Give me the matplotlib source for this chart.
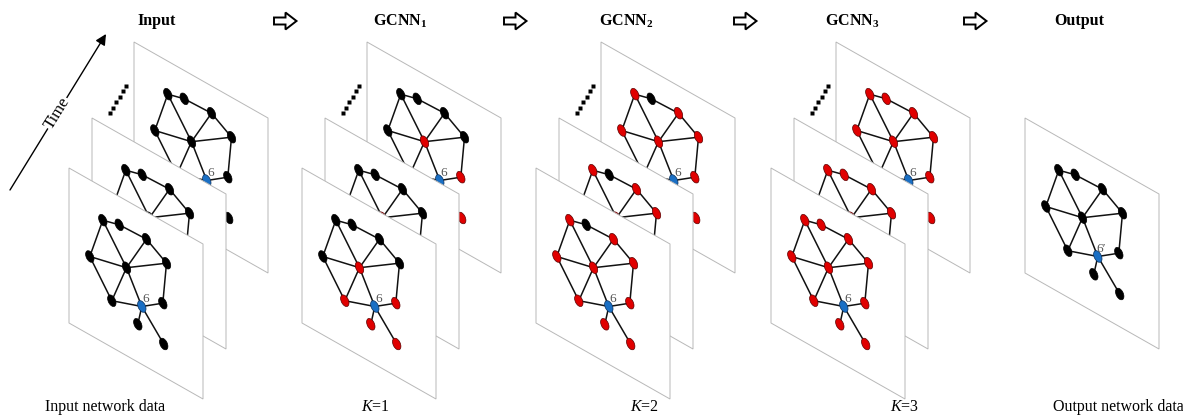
import matplotlib
matplotlib.use('Agg')
import matplotlib.pyplot as plt
from matplotlib.patches import Polygon, Ellipse
from matplotlib.transforms import Affine2D

plt.rcParams['font.family'] = ['Liberation Serif', 'DejaVu Serif']
plt.rcParams['mathtext.fontset'] = 'custom'
plt.rcParams['mathtext.rm'] = 'Liberation Serif'
plt.rcParams['mathtext.it'] = 'Liberation Serif:italic'
plt.rcParams['mathtext.bf'] = 'Liberation Serif:bold'

# ---------------- data ----------------
stage_titles = ['Input', r'$\mathbf{GCNN}_\mathbf{1}$', r'$\mathbf{GCNN}_\mathbf{2}$',
                r'$\mathbf{GCNN}_\mathbf{3}$', 'Output']
stage_captions = ['Input network data', r'$K$=1', r'$K$=2', r'$K$=3', 'Output network data']
title_x = [157, 400, 626, 852, 1079]
caption_x = [105, 375, 645, 905, 1118]
arrow_x = [285, 515, 745, 975]

# front panel top-left x for the 4 stacked stages, output panel top-left
stack_front_x = [69, 302, 536, 771]
output_panel_xy = (1025, 118)

# graph nodes (position within panel, pixels from panel's top-left corner)
node_u = [33.8, 50.2, 77.5, 20.8, 57.5, 97.5, 42.8, 72.8, 93.8, 68.8, 94.7]
node_v = [52.2, 56.8, 71.2, 88.5, 99.7, 95.2, 132.7, 138.5, 135.2, 156.3, 176.0]
edges = [(0, 1), (1, 2), (2, 5), (0, 3), (0, 4), (3, 4), (2, 4), (4, 5),
         (3, 6), (6, 4), (4, 7), (6, 7), (7, 8), (5, 8), (7, 9), (7, 10)]
target_node = 7
stage_colors = ['kkkkkkkbkkk',
                'kkkkrkrbrrr',
                'rkrrrrrbrrr',
                'rrrrrrrbrrr',
                'kkkkkkkbkkk']
target_labels = ['6', '6', '6', '6', "6\u2032"]

# ---------------- geometry ----------------
W, H = 1183, 416
PW, PSKEW, PH = 134, 76, 155
SHEAR = PSKEW / PW
MID_OFF = (23, -50)
BACK_OFF = (65, -126)
FRONT_Y = 168

fill = {'k': ('#000000', '#000000'), 'r': ('#e00000', '#5a0000'), 'b': ('#1a6fc4', '#0b2f5a')}

fig = plt.figure(figsize=(W / 100, H / 100), dpi=100)
ax = fig.add_axes([0, 0, 1, 1])
ax.set_xlim(0, W)
ax.set_ylim(H, 0)
ax.axis('off')


def draw_panel(x0, y0, colors, label, z):
    pts = [(x0, y0), (x0 + PW, y0 + PSKEW), (x0 + PW, y0 + PSKEW + PH), (x0, y0 + PH)]
    ax.add_patch(Polygon(pts, closed=True, facecolor='white', edgecolor='#b8b8b8',
                         lw=0.7, zorder=z))
    xs = [x0 + u for u in node_u]
    ys = [y0 + v for v in node_v]
    for a, b in edges:
        ax.plot([xs[a], xs[b]], [ys[a], ys[b]], color='#111111', lw=1.1,
                zorder=z + 0.1, solid_capstyle='round')
    for i, c in enumerate(colors):
        fc, ec = fill[c]
        tr = Affine2D().from_values(1, SHEAR, 0, 1, xs[i], ys[i]) + ax.transData
        e = Ellipse((0, 0), 8.4, 10.6, facecolor=fc, edgecolor=ec, lw=0.5,
                    transform=tr, zorder=z + 0.2)
        ax.add_patch(e)
    ax.text(xs[target_node] + 3.5, ys[target_node] - 8, label, fontsize=9.5,
            color='#555555', ha='center', va='center', zorder=z + 0.3)


for s, fx in enumerate(stack_front_x):
    layers = [(fx + BACK_OFF[0], FRONT_Y + BACK_OFF[1]),
              (fx + MID_OFF[0], FRONT_Y + MID_OFF[1]),
              (fx, FRONT_Y)]
    for k, (px, py) in enumerate(layers):
        draw_panel(px, py, stage_colors[s], target_labels[s], 1 + k)
    # dots between middle and back panels
    n = 6
    for j in range(n):
        t = j / (n - 1)
        ax.plot(fx + 41 + t * 16, FRONT_Y - 55 - t * 27, 's', ms=2.4, color='k',
                mec='none', zorder=5)

draw_panel(output_panel_xy[0], output_panel_xy[1], stage_colors[4], target_labels[4], 1)

# titles, captions
for tx, t in zip(title_x, stage_titles):
    ax.text(tx, 21, t, fontsize=11.5, fontweight='bold', ha='center', va='center', zorder=6)
for cx, t in zip(caption_x, stage_captions):
    ax.text(cx, 407, t, fontsize=11.5, ha='center', va='center', zorder=6)

# hollow block arrows
for ax_ in arrow_x:
    cy = 21
    pts = [(ax_ - 11, cy - 3.5), (ax_ + 0.5, cy - 3.5), (ax_ + 0.5, cy - 8.5),
           (ax_ + 11.5, cy), (ax_ + 0.5, cy + 8.5), (ax_ + 0.5, cy + 3.5),
           (ax_ - 11, cy + 3.5)]
    ax.add_patch(Polygon(pts, closed=True, facecolor='white', edgecolor='black',
                         lw=1.4, joinstyle='miter', zorder=6))

# time arrow
ax.annotate('', xy=(106, 34), xytext=(10, 190),
            arrowprops=dict(arrowstyle='-|>', color='black', lw=1.0,
                            mutation_scale=16, shrinkA=0, shrinkB=0), zorder=6)
ax.text(57, 113, 'Time', rotation=58.4, fontsize=12, ha='center', va='center',
        rotation_mode='anchor', zorder=7,
        bbox=dict(facecolor='white', edgecolor='none', pad=0.5))

fig.savefig('out.png', dpi=100)
